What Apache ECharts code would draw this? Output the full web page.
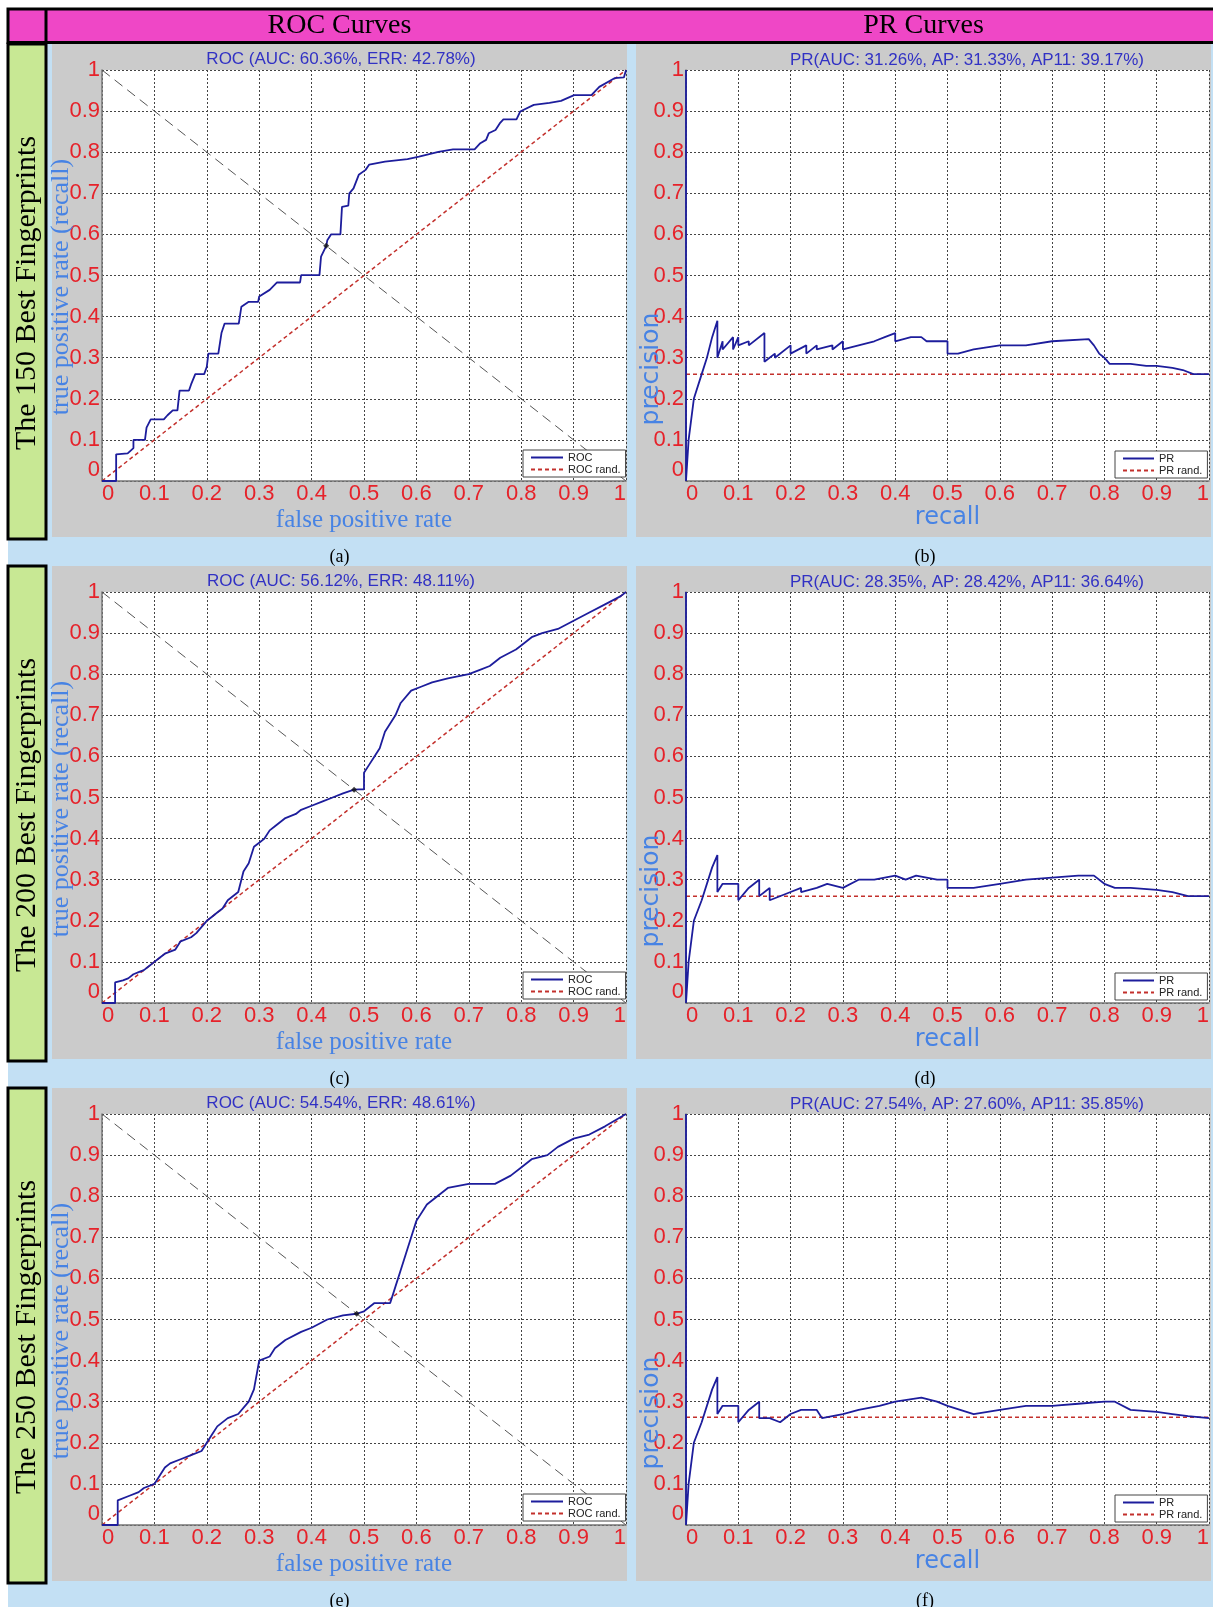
<!DOCTYPE html>
<html>
<head>
<meta charset="utf-8">
<script src="https://cdn.jsdelivr.net/npm/echarts@6/dist/echarts.min.js"></script>
<style>
  html, body { margin: 0; padding: 0; background: #ffffff; }
  #fig { width: 1213px; height: 1607px; }
</style>
</head>
<body>
<div id="fig"></div>
<script>
// ---------------- data ----------------
const rowLabels = ['The 150 Best Fingerprints', 'The 200 Best Fingerprints', 'The 250 Best Fingerprints'];
const columnHeads = ['ROC Curves', 'PR Curves'];
const panelCaptions = [['(a)', '(b)'], ['(c)', '(d)'], ['(e)', '(f)']];

const rocAuc = ['60.36%', '56.12%', '54.54%'];
const rocErr = [42.78, 48.11, 48.61];
const prAuc = ['31.26%', '28.35%', '27.54%'];
const prAp = ['31.33%', '28.42%', '27.60%'];
const prAp11 = ['39.17%', '36.64%', '35.85%'];

const tickMin = 0, tickMax = 1, tickStep = 0.1;

// random-classifier baselines
const rocRand = [[0, 0], [1, 1]];
const eerGuide = [[0, 1], [1, 0]];
const prRandLevel = [0.26, 0.26, 0.262];

// ROC curves (false positive rate, true positive rate)
const roc150 = [[0,0],[0.027,0],[0.027,0.065],[0.049,0.067],[0.06,0.08],[0.06,0.10],[0.082,0.10],[0.085,0.13],[0.093,0.15],[0.118,0.15],[0.125,0.16],[0.135,0.172],[0.144,0.172],[0.148,0.22],[0.166,0.22],[0.17,0.235],[0.178,0.26],[0.195,0.26],[0.2,0.278],[0.203,0.31],[0.222,0.31],[0.228,0.36],[0.234,0.383],[0.261,0.383],[0.266,0.424],[0.28,0.436],[0.298,0.436],[0.3,0.449],[0.32,0.465],[0.334,0.483],[0.378,0.483],[0.38,0.501],[0.415,0.501],[0.418,0.546],[0.428,0.572],[0.43,0.586],[0.437,0.6],[0.455,0.6],[0.458,0.667],[0.47,0.67],[0.472,0.70],[0.48,0.712],[0.49,0.745],[0.503,0.757],[0.51,0.77],[0.54,0.777],[0.583,0.783],[0.605,0.789],[0.642,0.801],[0.67,0.807],[0.711,0.807],[0.722,0.822],[0.733,0.83],[0.738,0.846],[0.751,0.854],[0.759,0.87],[0.766,0.88],[0.791,0.88],[0.798,0.899],[0.824,0.915],[0.854,0.92],[0.876,0.925],[0.901,0.939],[0.934,0.939],[0.949,0.959],[0.978,0.98],[0.996,0.982],[1,1]];
const roc200 = [[0,0],[0.025,0],[0.025,0.05],[0.04,0.055],[0.05,0.06],[0.06,0.07],[0.07,0.075],[0.08,0.08],[0.09,0.09],[0.1,0.1],[0.11,0.11],[0.12,0.12],[0.14,0.13],[0.15,0.15],[0.17,0.16],[0.18,0.17],[0.2,0.2],[0.21,0.21],[0.22,0.22],[0.23,0.23],[0.24,0.25],[0.26,0.27],[0.27,0.32],[0.28,0.34],[0.29,0.38],[0.3,0.39],[0.31,0.4],[0.32,0.42],[0.33,0.43],[0.35,0.45],[0.37,0.46],[0.38,0.47],[0.4,0.48],[0.42,0.49],[0.44,0.5],[0.46,0.51],[0.481,0.519],[0.49,0.52],[0.5,0.52],[0.5,0.56],[0.51,0.58],[0.52,0.6],[0.53,0.62],[0.54,0.66],[0.56,0.7],[0.57,0.73],[0.59,0.76],[0.61,0.77],[0.63,0.78],[0.66,0.79],[0.7,0.8],[0.72,0.81],[0.74,0.82],[0.76,0.84],[0.79,0.86],[0.8,0.87],[0.82,0.89],[0.84,0.9],[0.87,0.91],[0.9,0.93],[0.93,0.95],[0.96,0.97],[0.99,0.99],[1,1]];
const roc250 = [[0,0],[0.03,0],[0.03,0.06],[0.05,0.07],[0.07,0.08],[0.08,0.09],[0.1,0.1],[0.11,0.12],[0.12,0.14],[0.13,0.15],[0.15,0.16],[0.17,0.17],[0.19,0.18],[0.2,0.2],[0.21,0.22],[0.22,0.24],[0.24,0.26],[0.26,0.27],[0.28,0.3],[0.29,0.33],[0.3,0.4],[0.32,0.41],[0.33,0.43],[0.35,0.45],[0.38,0.47],[0.4,0.48],[0.43,0.5],[0.46,0.51],[0.486,0.514],[0.5,0.52],[0.52,0.54],[0.55,0.54],[0.56,0.58],[0.57,0.62],[0.58,0.66],[0.59,0.7],[0.6,0.74],[0.62,0.78],[0.64,0.8],[0.66,0.82],[0.7,0.83],[0.75,0.83],[0.78,0.85],[0.8,0.87],[0.82,0.89],[0.85,0.9],[0.87,0.92],[0.9,0.94],[0.93,0.95],[0.96,0.97],[1,1]];

// PR curves (recall, precision)
const pr150 = [[0,1],[0,0],[0.005,0.1],[0.015,0.2],[0.03,0.26],[0.04,0.3],[0.05,0.35],[0.06,0.39],[0.06,0.3],[0.07,0.34],[0.07,0.32],[0.09,0.35],[0.09,0.32],[0.1,0.35],[0.1,0.33],[0.12,0.34],[0.12,0.33],[0.15,0.36],[0.15,0.29],[0.17,0.31],[0.17,0.3],[0.2,0.33],[0.2,0.31],[0.23,0.33],[0.23,0.31],[0.25,0.33],[0.25,0.32],[0.28,0.33],[0.28,0.32],[0.3,0.34],[0.3,0.32],[0.33,0.33],[0.36,0.34],[0.38,0.35],[0.4,0.36],[0.4,0.34],[0.43,0.35],[0.45,0.35],[0.46,0.34],[0.5,0.34],[0.5,0.31],[0.52,0.31],[0.55,0.32],[0.6,0.33],[0.65,0.33],[0.7,0.34],[0.77,0.345],[0.78,0.33],[0.79,0.31],[0.8,0.3],[0.81,0.285],[0.85,0.285],[0.88,0.28],[0.9,0.28],[0.93,0.275],[0.95,0.27],[0.97,0.26],[1,0.26]];
const pr200 = [[0,1],[0,0],[0.005,0.1],[0.015,0.2],[0.03,0.25],[0.05,0.33],[0.06,0.36],[0.06,0.27],[0.07,0.29],[0.1,0.29],[0.1,0.25],[0.12,0.28],[0.14,0.3],[0.14,0.26],[0.16,0.28],[0.16,0.25],[0.2,0.27],[0.22,0.28],[0.22,0.27],[0.25,0.28],[0.27,0.29],[0.3,0.28],[0.33,0.3],[0.36,0.3],[0.4,0.31],[0.42,0.3],[0.44,0.31],[0.48,0.3],[0.5,0.3],[0.5,0.28],[0.55,0.28],[0.6,0.29],[0.65,0.3],[0.7,0.305],[0.75,0.31],[0.78,0.31],[0.8,0.29],[0.82,0.28],[0.85,0.28],[0.9,0.275],[0.93,0.27],[0.96,0.26],[1,0.26]];
const pr250 = [[0,1],[0,0],[0.005,0.1],[0.015,0.2],[0.03,0.25],[0.05,0.33],[0.06,0.36],[0.06,0.27],[0.07,0.29],[0.1,0.29],[0.1,0.25],[0.12,0.28],[0.14,0.3],[0.14,0.26],[0.16,0.26],[0.18,0.25],[0.2,0.27],[0.22,0.28],[0.25,0.28],[0.26,0.26],[0.3,0.27],[0.33,0.28],[0.37,0.29],[0.4,0.3],[0.45,0.31],[0.48,0.3],[0.5,0.29],[0.55,0.27],[0.6,0.28],[0.65,0.29],[0.7,0.29],[0.75,0.295],[0.8,0.3],[0.82,0.3],[0.85,0.28],[0.9,0.275],[0.93,0.27],[0.96,0.265],[1,0.26]];

const rocCurves = [roc150, roc200, roc250];
const prCurves = [pr150, pr200, pr250];

// ---------------- layout & style ----------------
const ROW_STEP = 522;
const PLOT_TOP = 70, PLOT_H = 411;
const ROC_LEFT = 102, ROC_W = 524;
const PR_LEFT = 686, PR_W = 523;
const PANEL_TOP = 44, PANEL_H = 493;

const C = {
  magenta: '#EF47C6', green: '#C8E894', sky: '#C3E0F4', panel: '#CBCBCB',
  title: '#3131C4', axisName: '#4783E4', tick: '#E6222A',
  curve: '#1D1D9C', rand: '#C3302C', guide: '#555555', grid: '#444444'
};

const chart = echarts.init(document.getElementById('fig'), null, { renderer: 'canvas', width: 1213, height: 1607 });

const grids = [], xAxes = [], yAxes = [], series = [], legends = [], graphics = [];

const tickLabelStyle = { color: C.tick, fontSize: 22, fontFamily: 'Liberation Sans', margin: 2,
  showMinLabel: true, showMaxLabel: true };

function valueAxis(gridIndex, extra) {
  return Object.assign({
    type: 'value', gridIndex: gridIndex, min: tickMin, max: tickMax, interval: tickStep,
    axisLine: { show: true, onZero: false, lineStyle: { color: '#777777', width: 1.5 } },
    axisTick: { show: false },
    splitLine: { show: true, lineStyle: { color: C.grid, type: [2, 2], width: 1 } },
    axisLabel: Object.assign({}, tickLabelStyle)
  }, extra);
}

function centeredText(x, y, text, font, fill, rotation) {
  return { type: 'text', z: 50, x: x, y: y, rotation: rotation || 0,
    style: { text: text, font: font, fill: fill,
      align: 'center', verticalAlign: 'middle', textAlign: 'center', textVerticalAlign: 'middle' } };
}

function legendBox(names, left, top, itemWidth) {
  return { data: names, left: left, top: top, orient: 'vertical',
    itemWidth: itemWidth, itemHeight: 10, itemGap: 1, padding: [2, 5, 2, 7],
    backgroundColor: '#fff', borderColor: '#444', borderWidth: 1, selectedMode: false,
    itemStyle: { opacity: 0 },
    textStyle: { fontSize: 11, fontFamily: 'Liberation Sans', color: '#222' } };
}

// page background strips
graphics.push({ type: 'rect', z: -20, shape: { x: 8, y: 44, width: 1210, height: 1570 }, style: { fill: C.sky } });

// header row
graphics.push({ type: 'rect', z: -5, shape: { x: 8, y: 9, width: 1215, height: 33.5 }, style: { fill: C.magenta, stroke: '#000', lineWidth: 3 } });
graphics.push({ type: 'line', z: -4, shape: { x1: 46, y1: 9, x2: 46, y2: 43 }, style: { stroke: '#000', lineWidth: 3 } });
graphics.push(centeredText(339.5, 26, columnHeads[0], '28px "Liberation Serif"', '#000'));
graphics.push(centeredText(923.5, 26, columnHeads[1], '28px "Liberation Serif"', '#000'));

for (let r = 0; r < 3; r++) {
  const dy = r * ROW_STEP;
  const top = PLOT_TOP + dy;

  // grey panels
  graphics.push({ type: 'rect', z: -10, shape: { x: 52, y: PANEL_TOP + dy, width: 575, height: PANEL_H }, style: { fill: C.panel } });
  graphics.push({ type: 'rect', z: -10, shape: { x: 636, y: PANEL_TOP + dy, width: 575, height: PANEL_H }, style: { fill: C.panel } });

  // row label cell
  graphics.push({ type: 'rect', z: -5, shape: { x: 8, y: 44 + dy, width: 38, height: 495 }, style: { fill: C.green, stroke: '#000', lineWidth: 3 } });
  graphics.push(centeredText(27, 293 + dy, rowLabels[r], '30px "Liberation Serif"', '#000', Math.PI / 2));

  // captions
  graphics.push(centeredText(339.5, 557 + dy, panelCaptions[r][0], '18px "Liberation Serif"', '#000'));
  graphics.push(centeredText(925, 557 + dy, panelCaptions[r][1], '18px "Liberation Serif"', '#000'));

  // panel titles
  graphics.push(centeredText(341, 59 + dy,
    'ROC (AUC: ' + rocAuc[r] + ', ERR: ' + rocErr[r].toFixed(2) + '%)', '17px "Liberation Sans"', C.title));
  graphics.push(centeredText(967, 60 + dy,
    'PR(AUC: ' + prAuc[r] + ', AP: ' + prAp[r] + ', AP11: ' + prAp11[r] + ')', '17px "Liberation Sans"', C.title));

  // vertical axis titles, placed as in the original figure
  graphics.push(centeredText(61, 287 + dy, 'true positive rate (recall)', '26px "Liberation Serif"', C.axisName, Math.PI / 2));
  graphics.push(centeredText(651, 369 + dy, 'precision', '25px "DejaVu Sans"', C.axisName, Math.PI / 2));

  // ---- ROC plot ----
  const gRoc = grids.length;
  grids.push({ left: ROC_LEFT, top: top, width: ROC_W, height: PLOT_H, show: true, backgroundColor: '#fff', borderWidth: 0 });
  xAxes.push(valueAxis(gRoc, {
    name: 'false positive rate', nameLocation: 'middle', nameGap: 27,
    nameTextStyle: { fontFamily: 'Liberation Serif', fontSize: 25, color: C.axisName },
    axisLabel: Object.assign({}, tickLabelStyle, { alignMinLabel: 'left', alignMaxLabel: 'right' })
  }));
  yAxes.push(valueAxis(gRoc, {
    axisLabel: Object.assign({}, tickLabelStyle, { verticalAlignMinLabel: 'bottom' })
  }));
  series.push({ type: 'line', name: 'EER guide', xAxisIndex: gRoc, yAxisIndex: gRoc, data: eerGuide,
    symbol: 'none', silent: true, z: 3, lineStyle: { color: C.guide, width: 1, type: [10, 6] } });
  series.push({ type: 'line', name: 'ROC rand.', xAxisIndex: gRoc, yAxisIndex: gRoc, data: rocRand,
    symbol: 'none', z: 4, itemStyle: { color: C.rand }, lineStyle: { color: C.rand, width: 1.5, type: [4, 3] } });
  series.push({ type: 'line', name: 'ROC', xAxisIndex: gRoc, yAxisIndex: gRoc, data: rocCurves[r],
    symbol: 'none', z: 5, itemStyle: { color: C.curve }, lineStyle: { color: C.curve, width: 1.8 } });
  series.push({ type: 'scatter', name: 'EER', xAxisIndex: gRoc, yAxisIndex: gRoc,
    data: [[rocErr[r] / 100, 1 - rocErr[r] / 100]], symbol: 'diamond', symbolSize: 6, z: 6,
    itemStyle: { color: '#111' } });
  legends.push(legendBox(['ROC', 'ROC rand.'], 523, 450 + dy, 32));

  // ---- PR plot ----
  const gPr = grids.length;
  grids.push({ left: PR_LEFT, top: top, width: PR_W, height: PLOT_H, show: true, backgroundColor: '#fff', borderWidth: 0 });
  xAxes.push(valueAxis(gPr, {
    name: 'recall', nameLocation: 'middle', nameGap: 24,
    nameTextStyle: { fontFamily: 'DejaVu Sans', fontSize: 24, color: C.axisName },
    axisLabel: Object.assign({}, tickLabelStyle, { alignMinLabel: 'left', alignMaxLabel: 'right' })
  }));
  yAxes.push(valueAxis(gPr, {
    axisLabel: Object.assign({}, tickLabelStyle, { verticalAlignMinLabel: 'bottom' })
  }));
  series.push({ type: 'line', name: 'PR rand.', xAxisIndex: gPr, yAxisIndex: gPr,
    data: [[0, prRandLevel[r]], [1, prRandLevel[r]]],
    symbol: 'none', z: 4, itemStyle: { color: C.rand }, lineStyle: { color: C.rand, width: 1.5, type: [4, 3] } });
  series.push({ type: 'line', name: 'PR', xAxisIndex: gPr, yAxisIndex: gPr, data: prCurves[r],
    symbol: 'none', z: 5, itemStyle: { color: C.curve }, lineStyle: { color: C.curve, width: 1.8 } });
  legends.push(legendBox(['PR', 'PR rand.'], 1115, 451 + dy, 31));
}

chart.setOption({
  animation: false,
  backgroundColor: '#ffffff',
  grid: grids,
  xAxis: xAxes,
  yAxis: yAxes,
  legend: legends,
  series: series,
  graphic: { elements: graphics }
});
</script>
</body>
</html>
